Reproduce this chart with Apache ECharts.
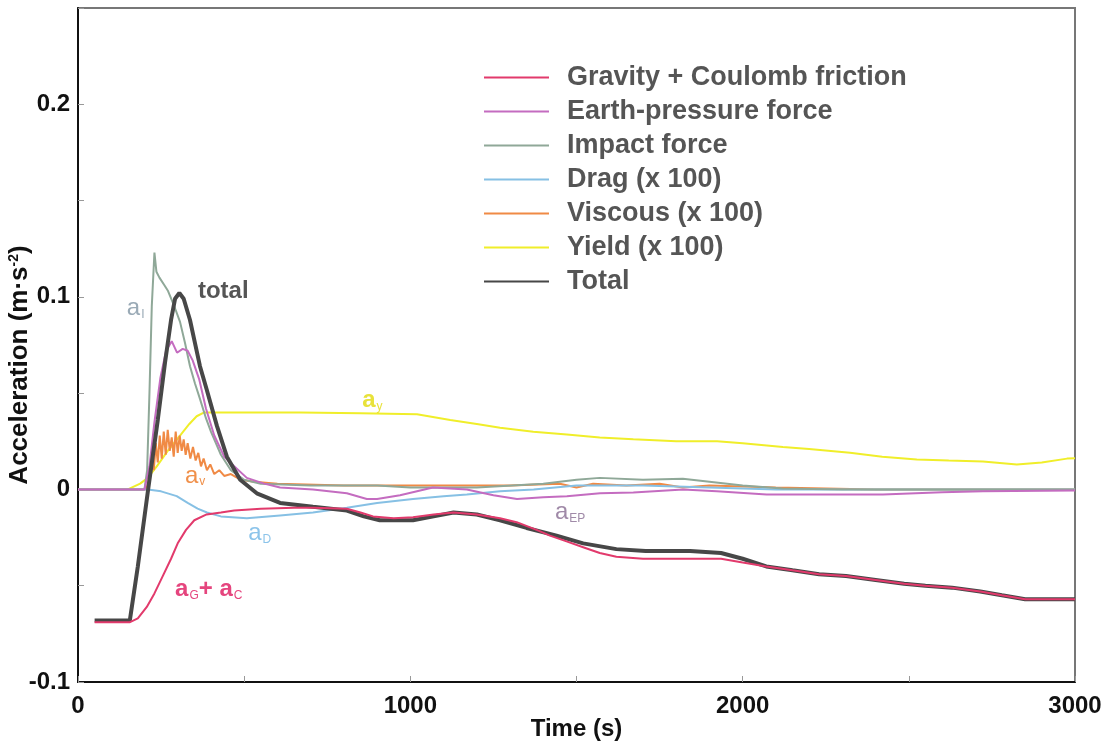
<!DOCTYPE html>
<html>
<head>
<meta charset="utf-8">
<script src="https://cdn.jsdelivr.net/npm/echarts/dist/echarts.min.js"></script>
<style>
html, body { margin: 0; padding: 0; background: #fff; }
#chart { width: 1110px; height: 750px; }
</style>
</head>
<body>
<div id="chart"></div>
<script>
// [time (s), acceleration (m/s2)]
const gravityCoulomb = [[50, -0.069], [100, -0.069], [155, -0.069], [180, -0.067], [207, -0.061], [230, -0.054],
	[255, -0.045], [280, -0.036], [300, -0.028], [325, -0.021], [350, -0.016], [387, -0.013], [430, -0.012],
	[470, -0.011], [550, -0.010], [650, -0.0095], [707, -0.0095], [809, -0.010], [850, -0.012], [888, -0.014],
	[950, -0.015], [1008, -0.0145], [1070, -0.013], [1130, -0.012], [1200, -0.013], [1270, -0.015],
	[1320, -0.017], [1380, -0.021], [1420, -0.024], [1470, -0.027], [1520, -0.030], [1570, -0.033],
	[1620, -0.035], [1700, -0.036], [1780, -0.036], [1850, -0.036], [1935, -0.036], [2000, -0.038],
	[2071, -0.040], [2150, -0.042], [2230, -0.044], [2311, -0.045], [2400, -0.047], [2486, -0.049],
	[2550, -0.050], [2630, -0.051], [2715, -0.053], [2780, -0.055], [2850, -0.057], [2920, -0.057], [3000, -0.057]
];
const earthPressure = [[0, 0], [200, 0], [215, 0.012], [230, 0.035], [248, 0.058], [265, 0.072], [282, 0.077],
	[298, 0.071], [315, 0.073], [330, 0.072], [345, 0.067], [365, 0.057], [385, 0.042], [410, 0.028],
	[440, 0.017], [470, 0.012], [508, 0.006], [560, 0.003], [608, 0.001], [707, 0], [809, -0.002],
	[869, -0.005], [900, -0.005], [969, -0.003], [1068, 0.001], [1170, 0], [1250, -0.003], [1321, -0.005],
	[1400, -0.004], [1471, -0.0035], [1571, -0.002], [1671, -0.0016], [1821, 0], [1922, -0.001],
	[2072, -0.0026], [2250, -0.0026], [2422, -0.0026], [2600, -0.0015], [2723, -0.001], [3000, -0.0005]
];
const impactForce = [[0, 0], [200, 0], [208, 0.01], [215, 0.05], [222, 0.095], [230, 0.123], [236, 0.113],
	[245, 0.110], [260, 0.106], [271, 0.103], [290, 0.095], [307, 0.087], [322, 0.076], [337, 0.064],
	[352, 0.055], [367, 0.047], [385, 0.037], [400, 0.030], [430, 0.018], [460, 0.010], [500, 0.005],
	[550, 0.003], [700, 0.002], [900, 0.002], [1000, 0.001], [1200, 0.001], [1400, 0.003], [1500, 0.005],
	[1570, 0.006], [1700, 0.005], [1820, 0.0055], [1900, 0.004], [2000, 0.002], [2120, 0.0005], [2300, 0], [3000, 0]
];
const drag = [[0, 0], [210, 0], [250, -0.001], [297, -0.0035], [330, -0.007], [360, -0.010], [388, -0.012],
	[430, -0.014], [508, -0.015], [608, -0.0135], [707, -0.012], [809, -0.0095], [900, -0.007], [1008, -0.005],
	[1100, -0.0035], [1170, -0.0026], [1270, -0.001], [1371, 0], [1500, 0.002], [1700, 0.002], [1900, 0.001],
	[2100, 0], [3000, 0]
];
const viscous = [[0, 0], [205, 0], [215, 0.006], [222, 0.018], [228, 0.010], [234, 0.024], [240, 0.014],
	[246, 0.028], [252, 0.016], [258, 0.030], [264, 0.018], [270, 0.031], [276, 0.020], [282, 0.027],
	[288, 0.017], [294, 0.030], [300, 0.019], [306, 0.028], [312, 0.020], [318, 0.026], [324, 0.018],
	[330, 0.024], [338, 0.016], [346, 0.022], [354, 0.015], [362, 0.019], [370, 0.012], [378, 0.016],
	[388, 0.010], [398, 0.013], [410, 0.008], [425, 0.010], [440, 0.007], [460, 0.008], [490, 0.005],
	[530, 0.004], [600, 0.003], [800, 0.002], [1000, 0.002], [1300, 0.002], [1450, 0.003], [1500, 0.001],
	[1550, 0.003], [1650, 0.002], [1750, 0.003], [1820, 0.001], [1900, 0.002], [2100, 0.001], [2400, 0], [3000, 0]
];
const yieldStress = [[0, 0], [150, 0], [187, 0.003], [210, 0.006], [237, 0.012], [270, 0.020], [307, 0.028],
	[335, 0.034], [357, 0.038], [380, 0.040], [407, 0.040], [500, 0.040], [668, 0.040], [850, 0.0395],
	[1020, 0.039], [1120, 0.036], [1200, 0.034], [1270, 0.032], [1370, 0.030], [1471, 0.0285], [1570, 0.027],
	[1671, 0.026], [1800, 0.025], [1923, 0.025], [2000, 0.024], [2121, 0.022], [2200, 0.021], [2323, 0.019],
	[2420, 0.017], [2524, 0.0156], [2620, 0.015], [2723, 0.0145], [2825, 0.013], [2900, 0.014], [2976, 0.016],
	[3000, 0.0162]
];
const total = [[50, -0.068], [100, -0.068], [156, -0.068], [180, -0.040], [211, 0], [240, 0.036], [262, 0.066],
	[280, 0.088], [292, 0.099], [305, 0.102], [318, 0.099], [337, 0.088], [352, 0.076], [367, 0.064],
	[387, 0.052], [418, 0.033], [448, 0.017], [488, 0.005], [538, -0.002], [608, -0.007], [707, -0.009],
	[809, -0.011], [860, -0.014], [908, -0.016], [1008, -0.016], [1070, -0.014], [1130, -0.012], [1200, -0.013],
	[1270, -0.016], [1350, -0.020], [1440, -0.024], [1520, -0.028], [1620, -0.031], [1708, -0.032],
	[1842, -0.032], [1935, -0.033], [2000, -0.036], [2071, -0.040], [2150, -0.042], [2230, -0.044],
	[2311, -0.045], [2400, -0.047], [2486, -0.049], [2550, -0.050], [2630, -0.051], [2715, -0.053],
	[2780, -0.055], [2850, -0.057], [2920, -0.057], [3000, -0.057]
];

const legendNames = ['Gravity + Coulomb friction', 'Earth-pressure force', 'Impact force', 'Drag (x 100)',
	'Viscous (x 100)', 'Yield (x 100)', 'Total'];

// curve labels: [text, time, acceleration]
const curveLabels = [
	['a{s|I}', 147, 0.094],
	['total', 361, 0.103],
	['a{s|y}', 855, 0.046],
	['a{s|v}', 322, 0.007],
	['a{s|D}', 512, -0.023],
	['a{s|EP}', 1435, -0.012],
	['a{s|G}+ a{s|C}', 292, -0.052]
];

const font = 'Liberation Sans, Arial, sans-serif';
let myChart = echarts.init(document.getElementById('chart'));

function curve(name, data, color, width) {
	return {
		name: name,
		type: 'line',
		data: data,
		symbol: 'none',
		showSymbol: false,
		lineStyle: { color: color, width: width },
		itemStyle: { color: color },
		emphasis: { disabled: true }
	};
}

let option = {
	animation: false,
	grid: {
		left: 78, right: 35, top: 8, bottom: 68,
		outerBoundsMode: 'none',
		show: true, borderColor: '#777', borderWidth: 2
	},
	legend: {
		orient: 'vertical',
		left: 478,
		top: 59,
		itemWidth: 65,
		itemHeight: 14,
		itemGap: 7,
		data: legendNames,
		itemStyle: { opacity: 0, borderWidth: 0 },
		textStyle: { fontSize: 27, fontWeight: 'bold', color: '#555', fontFamily: font, padding: [0, 0, 0, 13] }
	},
	xAxis: {
		type: 'value',
		min: 0,
		max: 3000,
		interval: 500,
		name: 'Time (s)',
		nameLocation: 'middle',
		nameGap: 35,
		nameMoveOverlap: false,
		nameTextStyle: { fontSize: 24, fontWeight: 'bold', color: '#111', fontFamily: font },
		axisLine: { onZero: false, lineStyle: { color: '#111', width: 2 } },
		axisTick: { inside: true, length: 6, lineStyle: { color: '#999' } },
		axisLabel: {
			margin: 12,
			fontSize: 24, fontWeight: 'bold', color: '#111', fontFamily: font,
			formatter: v => (v % 1000 === 0 ? String(v) : '')
		},
		splitLine: { show: false }
	},
	yAxis: {
		type: 'value',
		min: -0.1,
		max: 0.25,
		interval: 0.05,
		name: 'Acceleration (m·s{sup|-2})',
		nameLocation: 'middle',
		nameGap: 45,
		nameMoveOverlap: false,
		nameTextStyle: {
			fontSize: 26, fontWeight: 'bold', color: '#111', fontFamily: font,
			padding: [0, 40, 0, 0],
			rich: { sup: { fontSize: 14, fontWeight: 'bold', color: '#111', verticalAlign: 'top', padding: [0, 0, 12, 0] } }
		},
		axisLine: { onZero: false, lineStyle: { color: '#111', width: 2 } },
		axisTick: { inside: true, length: 6, lineStyle: { color: '#999' } },
		axisLabel: {
			margin: 8,
			fontSize: 24, fontWeight: 'bold', color: '#111', fontFamily: font,
			formatter: function (v) {
				let r = Math.round(v * 100);
				return r % 10 === 0 ? String(r / 100) : '';
			}
		},
		splitLine: { show: false }
	},
	series: [
		curve('Yield (x 100)', yieldStress, '#f0ee2a', 2),
		curve('Viscous (x 100)', viscous, '#f08a45', 2),
		curve('Drag (x 100)', drag, '#86c0e4', 2),
		curve('Impact force', impactForce, '#8fa898', 2),
		curve('Earth-pressure force', earthPressure, '#c46cc0', 2),
		curve('Total', total, '#474747', 4),
		curve('Gravity + Coulomb friction', gravityCoulomb, '#e23a6c', 2)
	]
};
myChart.setOption(option);

// place the curve labels at their data positions
const labelStyles = [
	{ fill: '#9aaab6', fontSize: 24, fontWeight: 'normal' },
	{ fill: '#555', fontSize: 24, fontWeight: 'bold' },
	{ fill: '#e8e23a', fontSize: 24, fontWeight: 'bold' },
	{ fill: '#f0904a', fontSize: 24, fontWeight: 'normal' },
	{ fill: '#8cc4ea', fontSize: 24, fontWeight: 'normal' },
	{ fill: '#a08aa8', fontSize: 24, fontWeight: 'normal' },
	{ fill: '#e5457e', fontSize: 24, fontWeight: 'bold' }
];
let graphics = curveLabels.map(function (item, i) {
	let p = myChart.convertToPixel({ gridIndex: 0 }, [item[1], item[2]]);
	let st = labelStyles[i];
	return {
		type: 'text',
		x: p[0],
		y: p[1],
		z: 100,
		style: {
			text: item[0],
			fill: st.fill,
			fontSize: st.fontSize,
			fontWeight: st.fontWeight,
			fontFamily: font,
			verticalAlign: 'middle',
			align: 'left',
			rich: {
				s: { fontSize: 12, fill: st.fill, fontFamily: font, verticalAlign: 'bottom', padding: [12, 0, 0, 1] }
			}
		}
	};
});
myChart.setOption({ graphic: graphics });
</script>
</body>
</html>
